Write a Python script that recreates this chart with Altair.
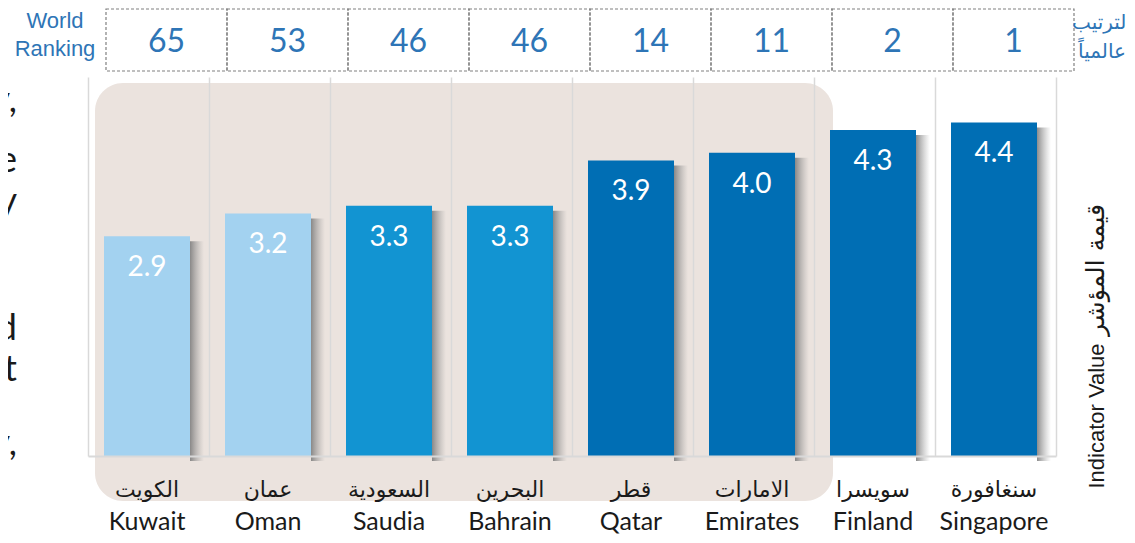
import altair as alt
import pandas as pd

countries = ["Kuwait", "Oman", "Saudia", "Bahrain", "Qatar", "Emirates", "Finland", "Singapore"]
arabic_names = ["الكويت", "عمان", "السعودية", "البحرين", "قطر", "الامارات", "سويسرا", "سنغافورة"]
values = [2.9, 3.2, 3.3, 3.3, 3.9, 4.0, 4.3, 4.4]
ranks = [65, 53, 46, 46, 14, 11, 2, 1]
tiers = ["light", "light", "mid", "mid", "dark", "dark", "dark", "dark"]

tier_domain = ["light", "mid", "dark"]
tier_colors = ["#A3D2F0", "#1294D2", "#006EB4"]

fragments = ["y,", "e", "y", "d", "t", "y,"]
fragment_y = [35, 95, 136, 263, 304, 378]

W, H = 968, 379
BLUE = "#2E75B6"

df = pd.DataFrame({"country": countries, "arabic": arabic_names, "value": values,
                   "rank": ranks, "tier": tiers})
frag_df = pd.DataFrame({"t": fragments, "y": fragment_y})

xs = alt.Scale(domain=countries, paddingInner=0, paddingOuter=0)
ys = alt.Scale(domain=[0, 5])

base = alt.Chart(df)

panel = alt.Chart(pd.DataFrame({"a": [0]})).mark_rect(
    color="#EBE3DE", cornerRadius=28
).encode(x=alt.value(7), x2=alt.value(745), y=alt.value(6), y2=alt.value(424))

shadow = base.mark_bar(
    width=14, xOffset=48.5, yOffset=5,
    color=alt.Gradient(
        gradient="linear",
        stops=[alt.GradientStop(color="rgba(120,120,120,0.85)", offset=0),
               alt.GradientStop(color="rgba(160,160,160,0)", offset=1)],
        x1=0, x2=1, y1=0, y2=0,
    ),
).encode(
    x=alt.X("country:N", scale=xs, sort=countries,
            axis=alt.Axis(labels=False, ticks=False, title=None, grid=True,
                          tickBand="extent", gridColor="#D9D9D9", gridWidth=1.5,
                          domainColor="#D9D9D9", domainWidth=2, zindex=1)),
    y=alt.Y("value:Q", scale=ys, axis=None),
)

bars = base.mark_bar(width=86, xOffset=-1.5).encode(
    x=alt.X("country:N", scale=xs, sort=countries),
    y=alt.Y("value:Q", scale=ys),
    color=alt.Color("tier:N", scale=alt.Scale(domain=tier_domain, range=tier_colors), legend=None),
)

value_labels = base.mark_text(
    color="white", fontSize=28, font="Lato", dy=32, xOffset=-1.5, baseline="middle"
).encode(
    x=alt.X("country:N", scale=xs, sort=countries),
    y=alt.Y("value:Q", scale=ys),
    text=alt.Text("value:Q", format=".1f"),
)

arabic_labels = base.mark_text(
    fontSize=22, font="DejaVu Sans", color="#1a1a1a", baseline="middle", xOffset=-1.5
).encode(
    x=alt.X("country:N", scale=xs, sort=countries),
    y=alt.value(H + 34),
    text="arabic:N",
)

english_labels = base.mark_text(
    fontSize=25, font="Lato", color="#1a1a1a", baseline="middle", xOffset=-1.5
).encode(
    x=alt.X("country:N", scale=xs, sort=countries),
    y=alt.value(H + 66),
    text="country:N",
)

cells = base.mark_rect(
    fill="transparent", stroke="#808080", strokeDash=[3, 2], strokeWidth=1.2,
    xOffset=18, x2Offset=18,
).encode(
    x=alt.X("country:N", scale=xs, sort=countries),
    y=alt.value(-68), y2=alt.value(-6),
)

rank_text = base.mark_text(
    fontSize=32, font="Lato", color=BLUE, baseline="middle", xOffset=18
).encode(
    x=alt.X("country:N", scale=xs, sort=countries),
    y=alt.value(-35),
    text="rank:Q",
)

world_rank = alt.Chart(pd.DataFrame({"t": ["World", "Ranking"], "y": [-56, -28]})).mark_text(
    fontSize=22, font="Liberation Sans", color=BLUE, baseline="middle", align="center"
).encode(x=alt.value(-33), y=alt.Y("y:Q", scale=None), text="t:N")

arabic_rank = alt.Chart(pd.DataFrame({"t": ["الترتيب", "عالمياً"], "y": [-54, -25]})).mark_text(
    fontSize=20, font="DejaVu Sans", color=BLUE, baseline="middle", align="center"
).encode(x=alt.value(1014), y=alt.Y("y:Q", scale=None), text="t:N")

right_en = alt.Chart(pd.DataFrame({"t": ["Indicator Value"]})).mark_text(
    fontSize=22, font="Liberation Sans", color="#1a1a1a", angle=270, baseline="middle", align="center"
).encode(x=alt.value(1009), y=alt.value(339), text="t:N")

right_ar = alt.Chart(pd.DataFrame({"t": ["قيمة المؤشر"]})).mark_text(
    fontSize=25, font="DejaVu Sans", color="#1a1a1a", angle=270, baseline="middle", align="center"
).encode(x=alt.value(1008), y=alt.value(193), text="t:N")

frags = alt.Chart(frag_df).mark_text(
    fontSize=36, font="Lato", color="#1a1a1a", align="right", baseline="alphabetic"
).encode(x=alt.value(-71), y=alt.Y("y:Q", scale=None), text="t:N")

chart = alt.layer(
    panel, shadow, bars, value_labels, arabic_labels, english_labels,
    cells, rank_text, world_rank, arabic_rank, right_en, right_ar, frags
).properties(
    width=W, height=H,
    padding={"left": 80, "top": 69, "right": 70, "bottom": 79},
    autosize=alt.AutoSizeParams(type="none"),
).configure_view(stroke=None)

chart.save("out.html", embed_options={"renderer": "svg", "actions": False})
